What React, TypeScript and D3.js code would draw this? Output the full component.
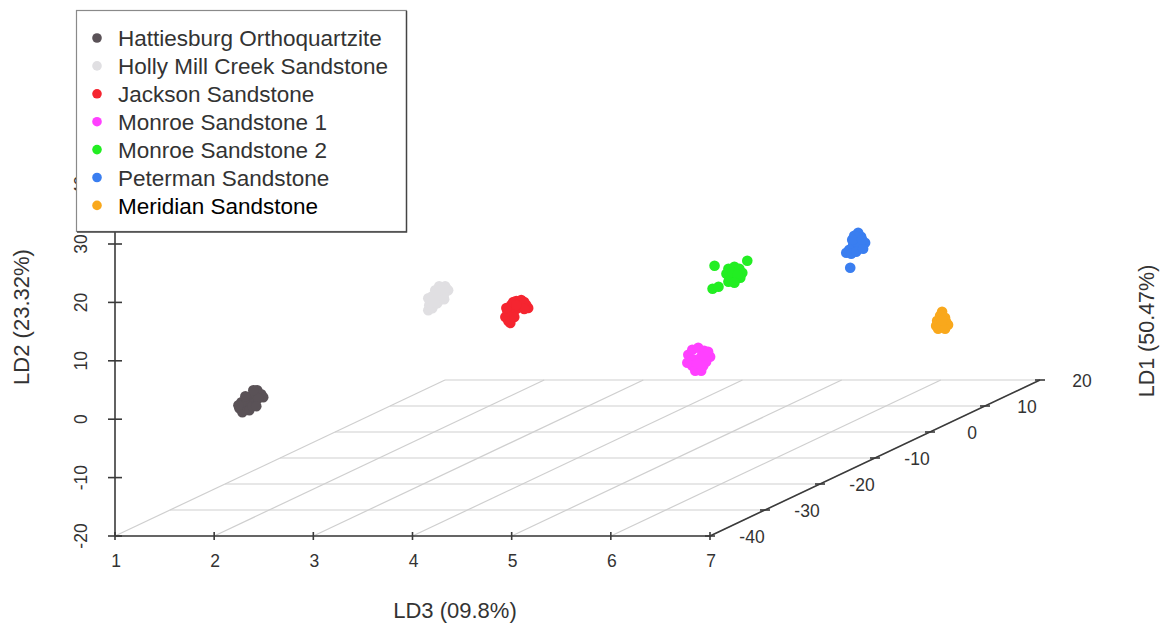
import React from 'react';
import * as d3 from 'd3';

// legend order, colours
const groupNames = [
  'Hattiesburg Orthoquartzite',
  'Holly Mill Creek Sandstone',
  'Jackson Sandstone',
  'Monroe Sandstone 1',
  'Monroe Sandstone 2',
  'Peterman Sandstone',
  'Meridian Sandstone',
];
const groupColors = ['#5a5257', '#e0dfe2', '#f52530', '#ff40ff', '#22ee22', '#3a7ef0', '#f9a81c'];
const legendTextColors = ['#333', '#333', '#333', '#333', '#333', '#333', '#000'];

// samples as [LD3, LD2, LD1]
const hattiesburg: [number, number, number][] = [
  [1.70, -2.57, -30], [1.73, -3.25, -30], [1.76, -2.06, -30], [1.79, -1.2, -30],
  [1.82, -0.52, -30], [1.85, 0.17, -30], [1.88, 0.51, -30], [1.92, -0.17, -30],
  [1.94, -0.69, -30], [1.86, -1.54, -30], [1.80, -2.91, -30], [1.89, -0.86, -30],
  [1.72, -1.54, -30], [1.83, -2.23, -30], [1.76, -0.52, -30], [1.87, -2.23, -30],
  [1.69, -2.06, -30], [1.84, 0.51, -30],
];
const hollyMill: [number, number, number][] = [
  [3.05, 9.75, -20], [3.06, 10.6, -20], [3.08, 11.46, -20], [3.11, 12.14, -20],
  [3.14, 12.83, -20], [3.18, 13.51, -20], [3.22, 13.85, -20], [3.25, 13.17, -20],
  [3.21, 12.48, -20], [3.17, 11.8, -20], [3.11, 10.77, -20], [3.09, 10.09, -20],
  [3.23, 13.51, -20], [3.15, 11.29, -20], [3.19, 12.31, -20], [3.09, 12.14, -20],
  [3.14, 10.94, -20], [3.07, 11.12, -20], [3.20, 13.34, -20], [3.16, 13.85, -20],
  [3.12, 13.17, -20], [3.05, 11.8, -20], [3.21, 11.63, -20],
];
const jackson: [number, number, number][] = [
  [3.58, 5.69, -15], [3.55, 6.37, -15], [3.60, 5.35, -15], [3.62, 6.72, -15],
  [3.57, 7.4, -15], [3.61, 8.43, -15], [3.66, 9.11, -15], [3.71, 9.28, -15],
  [3.76, 8.43, -15], [3.78, 7.91, -15], [3.72, 8.08, -15], [3.66, 7.74, -15],
  [3.64, 6.37, -15], [3.74, 8.94, -15], [3.56, 7.91, -15], [3.74, 7.74, -15],
  [3.63, 8.94, -15], [3.66, 8.43, -15],
];
const monroe1: [number, number, number][] = [
  [4.84, -4.54, -5], [4.88, -3.69, -5], [4.94, -3.35, -5], [5.00, -3.86, -5],
  [5.06, -4.89, -5], [5.02, -5.74, -5], [4.97, -4.89, -5], [4.90, -5.4, -5],
  [4.83, -5.91, -5], [4.88, -6.43, -5], [4.91, -7.28, -5], [4.97, -7.28, -5],
  [4.99, -6.43, -5], [4.93, -6.08, -5], [5.04, -4.03, -5],
];
const monroe2: [number, number, number][] = [
  [4.69, 5.73, 5], [4.75, 6.07, 5], [4.80, 5.73, 5], [4.83, 5.04, 5],
  [4.81, 4.19, 5], [4.76, 3.84, 5], [4.70, 4.19, 5], [4.67, 4.87, 5],
  [4.73, 5.04, 5], [4.78, 4.7, 5], [4.69, 3.5, 5], [4.75, 3.33, 5],
  [4.55, 6.24, 5], [4.88, 7.1, 5], [4.53, 2.3, 5], [4.59, 2.65, 5],
];
const peterman: [number, number, number][] = [
  [5.61, 8.77, 12], [5.64, 8.08, 12], [5.58, 7.74, 12], [5.63, 7.06, 12],
  [5.68, 7.06, 12], [5.56, 6.71, 12], [5.61, 6.2, 12], [5.52, 5.86, 12],
  [5.49, 5.34, 12], [5.54, 5.17, 12], [5.59, 5.52, 12], [5.66, 6.03, 12],
  [5.53, 2.78, 12], [5.57, 8.25, 12], [5.55, 7.57, 12], [5.65, 7.57, 12],
];
const meridian: [number, number, number][] = [
  [6.29, -6.09, 15], [6.27, -6.77, 15], [6.32, -7.12, 15], [6.24, -7.63, 15],
  [6.33, -7.8, 15], [6.23, -8.48, 15], [6.29, -8.31, 15], [6.35, -8.31, 15],
  [6.25, -9.0, 15], [6.32, -9.0, 15], [6.29, -7.63, 15],
];
const groupPoints = [hattiesburg, hollyMill, jackson, monroe1, monroe2, peterman, meridian];

const ld3Ticks = [1, 2, 3, 4, 5, 6, 7];
const ld2Ticks = [-20, -10, 0, 10, 20, 30, 40];
const ld1Ticks = [-40, -30, -20, -10, 0, 10, 20];

const W = 1161;
const H = 625;
const FONT = '"Liberation Sans", Arial, Helvetica, sans-serif';

// oblique projection like scatterplot3d
const origin = { x: 115, y: 536 };
const xScale = d3.scaleLinear().domain([1, 7]).range([0, 595]);
const yScale = d3.scaleLinear().domain([-20, 40]).range([0, 350.4]);
const zScale = d3.scaleLinear().domain([-40, 20]).range([0, 1]);
const depth = { x: 330, y: -156 };

const project = (x: number, y: number, z: number): [number, number] => [
  origin.x + xScale(x) + zScale(z) * depth.x,
  origin.y - yScale(y) + zScale(z) * depth.y,
];

const App: React.FC = () => {
  const axisColor = '#3a3a3a';
  const gridColor = '#cfcfcf';
  const x0 = ld3Ticks[0];
  const x1 = ld3Ticks[ld3Ticks.length - 1];
  const yMin = ld2Ticks[0];
  const zMin = ld1Ticks[0];
  const zMax = ld1Ticks[ld1Ticks.length - 1];

  const line = d3.line();

  return (
    <svg width={W} height={H} style={{ position: 'absolute', left: 0, top: 0, background: '#fff' }}
      fontFamily={FONT}>
      {/* floor grid */}
      <g stroke={gridColor} strokeWidth={1.2} fill="none">
        {ld1Ticks.map(z => (
          <path key={'gz' + z} d={line([project(x0, yMin, z), project(x1, yMin, z)]) || ''} />
        ))}
        {ld3Ticks.map(x => (
          <path key={'gx' + x} d={line([project(x, yMin, zMin), project(x, yMin, zMax)]) || ''} />
        ))}
      </g>

      {/* axes */}
      <g stroke={axisColor} strokeWidth={1.6} fill="none">
        <path d={line([project(x0, yMin, zMin), project(x1, yMin, zMin)]) || ''} />
        <path d={line([project(x0, yMin, zMin), project(x0, ld2Ticks[ld2Ticks.length - 1], zMin)]) || ''} />
        <path d={line([project(x1, yMin, zMin), project(x1, yMin, zMax)]) || ''} />
        {ld3Ticks.map(x => {
          const [px, py] = project(x, yMin, zMin);
          return <path key={'tx' + x} d={`M${px},${py - 4}V${py + 4}`} />;
        })}
        {ld2Ticks.map(y => {
          const [px, py] = project(x0, y, zMin);
          return <path key={'ty' + y} d={`M${px - 7},${py}H${px + 7}`} />;
        })}
        {ld1Ticks.map(z => {
          const [px, py] = project(x1, yMin, z);
          return <path key={'tz' + z} d={`M${px - 5},${py}H${px + 5}`} />;
        })}
      </g>

      {/* tick labels */}
      <g fill="#333" fontSize={17.5}>
        {ld3Ticks.map(x => {
          const [px, py] = project(x, yMin, zMin);
          return <text key={'lx' + x} x={px + 1} y={py + 31} textAnchor="middle">{x}</text>;
        })}
        {ld2Ticks.map(y => {
          const [px, py] = project(x0, y, zMin);
          return (
            <text key={'ly' + y} transform={`translate(${px - 34},${py}) rotate(-90)`}
              textAnchor="middle" dy="0.35em">{y}</text>
          );
        })}
        {ld1Ticks.map(z => {
          const [px, py] = project(x1, yMin, z);
          return <text key={'lz' + z} x={px + 42} y={py} textAnchor="middle" dy="0.38em">{z}</text>;
        })}
      </g>

      {/* points */}
      {groupPoints.map((pts, gi) => (
        <g key={'grp' + gi} fill={groupColors[gi]}>
          {pts.map((p, i) => {
            const [px, py] = project(p[0], p[1], p[2]);
            return <circle key={i} cx={px} cy={py} r={5.3} />;
          })}
        </g>
      ))}

      {/* axis titles */}
      <text transform="translate(29,317) rotate(-90)" textAnchor="middle" fontSize={22} fill="#333">LD2 (23.32%)</text>
      <text transform="translate(1154,331) rotate(-90)" textAnchor="middle" fontSize={21.5} fill="#333">LD1 (50.47%)</text>
      <text x={455} y={618} textAnchor="middle" fontSize={22} fill="#333">LD3 (09.8%)</text>

      {/* legend */}
      <g>
        <rect x={76.5} y={10.5} width={330} height={221} fill="#fff" stroke="#8a8a8a" strokeWidth={1.2} />
        <path d="M406.5,11V232H77" stroke="#444" strokeWidth={1.4} fill="none" />
        {groupNames.map((name, i) => (
          <g key={name} transform={`translate(0,${38 + i * 27.9})`}>
            <circle cx={97} cy={0} r={4.8} fill={groupColors[i]} />
            <text x={118} y={0} dy="0.36em" fontSize={22.5} fill={legendTextColors[i]}>{name}</text>
          </g>
        ))}
      </g>
    </svg>
  );
};

export default App;
